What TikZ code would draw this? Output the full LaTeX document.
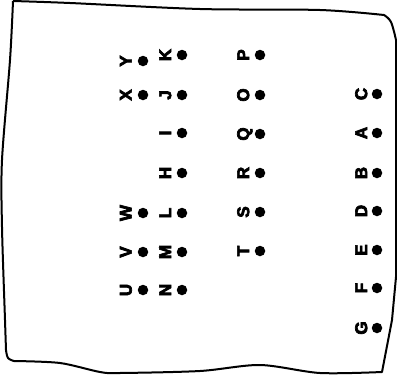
\documentclass[tikz,border=0pt]{standalone}
\usepackage{fontspec}
\setmainfont{Liberation Sans}
\newfontfamily\heavyfont[FakeBold=4]{Liberation Sans Bold}
\begin{document}
\begin{tikzpicture}[x=1pt,y=-1pt,
  lab/.style={rotate=90,inner sep=0pt,font=\fontsize{17}{17}\selectfont\heavyfont,text height=12.2pt,text depth=0pt,anchor=center},
  pt/.style={circle,fill=black,inner sep=0pt,minimum size=10.5pt},
  frame/.style={line width=2pt,line join=round}]
\useasboundingbox (0,0) rectangle (397,383);
% frame
\draw[frame] plot[smooth,tension=0.5] coordinates {(13,1) (70,3) (200,9) (320,10) (384,15)}
  -- plot[smooth,tension=0.6] coordinates {(384,15) (391,22) (396,40)}
  -- (396,277) -- (392,320) -- (382,372)
  -- plot[smooth,tension=0.5] coordinates {(382,372) (320,373) (260,365) (200,371) (120,373) (100,372) (60,363) (14,361)}
  -- plot[smooth,tension=0.6] coordinates {(14,361) (8,358) (6,350)}
  -- plot[smooth,tension=0.5] coordinates {(6,350) (5,320) (2,227) (2,160) (10,60) (13,1)};
% letters and dots: name/letter x / dot x / y
\foreach \n/\lx/\dx/\yy in {
  Y/125.5/143/61, X/125.5/143/95, W/125.5/143/213, V/125.5/143/252, U/125.5/143/290,
  K/165/182/55, J/165/182/95, I/165/182/133, H/165/182/173, L/165/182/213, M/165/182/252, N/165/182/290,
  P/243/260/55, O/243/260/95, Q/243/260/134, R/243/260/173, S/243/260/212, T/243/260/251,
  C/361/377/94, A/361/377/133, B/361/377/173, D/361/377/211, E/361/377/250, F/361/377/288, G/361/377/328}{
  \node[lab] (l\n) at (\lx,\yy) {\n};
  \node[pt] (d\n) at (\dx,\yy) {};
}
\end{tikzpicture}
\end{document}
